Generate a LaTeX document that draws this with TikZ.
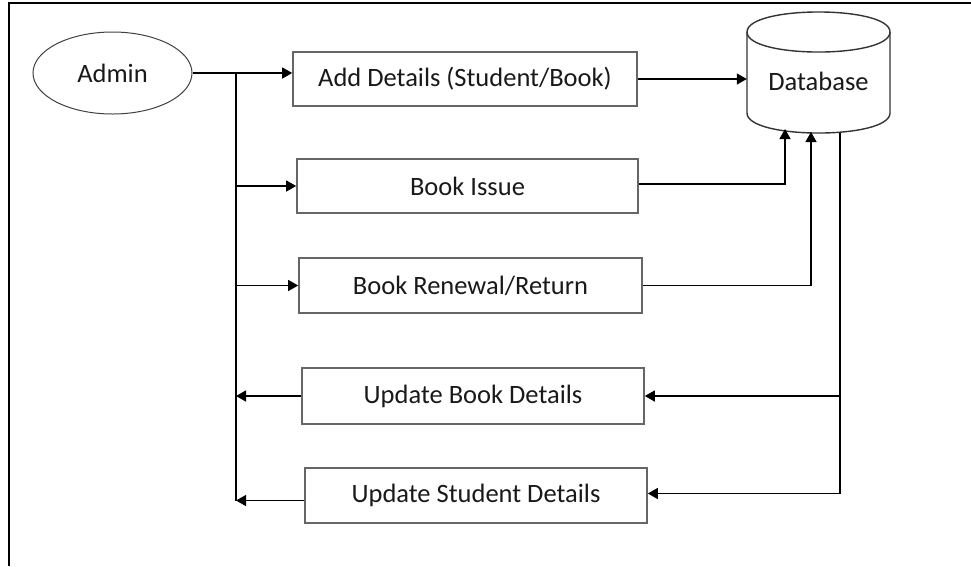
\documentclass[tikz,border=0pt]{standalone}
\usepackage{fontspec}
\setmainfont{Carlito}
\usetikzlibrary{arrows.meta,calc,shapes.geometric}
\begin{document}
\begin{tikzpicture}[x=1pt,y=-1pt,
  txt/.style={font=\fontsize{26.5}{31}\selectfont, text=black!90},
  procbox/.style={txt, draw=black!60, line width=1.6pt, rectangle, inner sep=0pt, minimum height=55pt, minimum width=342pt},
  conn/.style={draw=black, line width=1.3pt},
  dbline/.style={draw=black!80, line width=1.4pt},
  arr/.style={conn, -{Triangle[length=10pt,width=11pt]}}]
\useasboundingbox (0,0) rectangle (971,566);
% frame
\draw[line width=2pt] (9,566) -- (9,3) -- (971,3);
% admin
\node[txt, draw=black!75, line width=1pt, ellipse, minimum width=159pt, minimum height=82pt, inner sep=0pt] (admin) at (112.5,73) {Admin};
% boxes
\node[procbox, minimum width=344pt, minimum height=54pt] (b1) at (465,79) {Add Details (Student/Book)};
\node[procbox, minimum width=341pt, minimum height=54pt] (b2) at (467.5,186) {Book Issue};
\node[procbox, minimum width=343pt] (b3) at (470.5,285.5) {Book Renewal/Return};
\node[procbox, minimum height=56pt] (b4) at (473,396) {Update Book Details};
\node[procbox] (b5) at (476,495.5) {Update Student Details};
% database
\node[txt, minimum width=143pt, minimum height=40pt, inner sep=0pt] (db) at (818.5,81) {Database};
\coordinate (dbtl) at (747,32);
\coordinate (dbtr) at (890,32);
\coordinate (dbbl) at (747,113);
\coordinate (dbbr) at (890,113);
\draw[dbline] (dbtl) .. controls (747,5.3) and (890,5.3) .. (dbtr);
\draw[dbline] (dbtl) .. controls (747,58.7) and (890,58.7) .. (dbtr);
\draw[dbline] (dbtl) -- (dbbl) .. controls (747,139.7) and (890,139.7) .. (dbbr) -- (dbtr);
% coordinates
\coordinate (bus) at (236,73);
\coordinate (busend) at (236,501);
\coordinate (c2) at (785,129);
\coordinate (c3) at (811,132);
\coordinate (c4) at (840,133);
\coordinate (c4end) at (840,494);
% admin to bus
\draw[conn] (admin.east) -- (bus);
\draw[conn] (bus) -- (busend);
\draw[arr] (bus) -- (bus -| b1.west);
\draw[arr] (b2.west -| bus) -- (b2.west);
\draw[arr] (b3.west -| bus) -- (b3.west);
\draw[arr] (b4.west) -- (b4.west -| bus);
\draw[arr] ($(b5.west)+(0,5)$) -- ($(b5.west -| bus)+(0,5)$);
% to database
\draw[arr] (b1.east) -- (b1.east -| db.west);
\draw[arr] ($(b2.east)+(0,-2)$) -| (c2);
\draw[arr] (b3.east) -| (c3);
% from database
\draw[conn] (c4) -- (c4end);
\draw[arr] (b4.east -| c4) -- (b4.east);
\draw[arr] ($(b5.east -| c4)+(0,-2)$) -- ($(b5.east)+(0,-2)$);
\end{tikzpicture}
\end{document}
